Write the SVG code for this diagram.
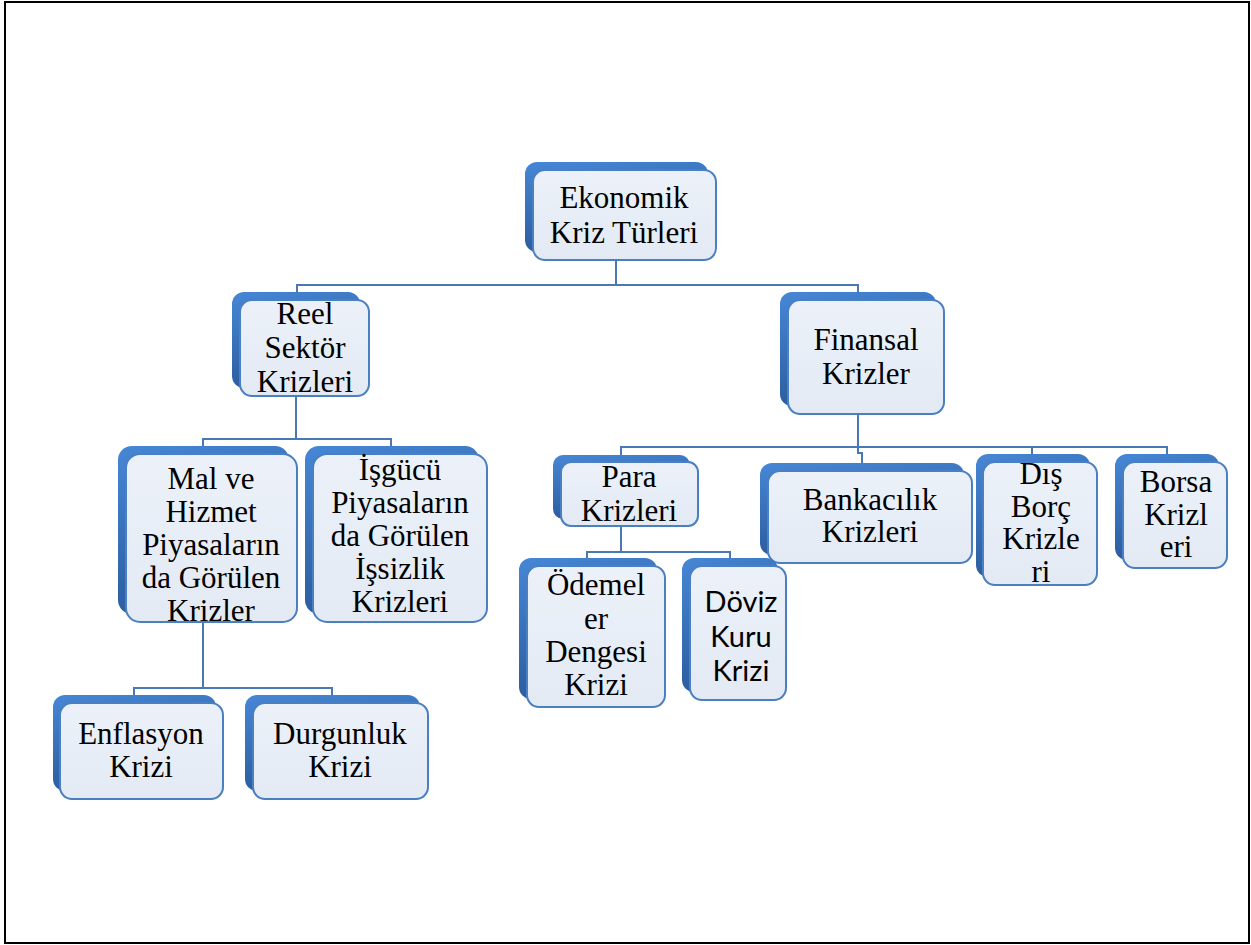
<svg xmlns="http://www.w3.org/2000/svg" width="1251" height="945" viewBox="0 0 1251 945">
<defs>
<linearGradient id="gBack" x1="0" y1="0" x2="0.3" y2="1">
<stop offset="0" stop-color="#4687d6"/>
<stop offset="1" stop-color="#2a5a9c"/>
</linearGradient>
<linearGradient id="gFront" x1="0" y1="0" x2="0" y2="1">
<stop offset="0" stop-color="#ecf1f9"/>
<stop offset="1" stop-color="#e3eaf4"/>
</linearGradient>
</defs>
<style>
.frame{fill:#fff;stroke:#000;stroke-width:2}
.back{fill:url(#gBack)}
.front{fill:url(#gFront);stroke:#4a7fc1;stroke-width:2}
.con{fill:none;stroke:#4a78b4;stroke-width:2}
.t{font-family:"Liberation Serif","Times New Roman",serif;font-size:31px;fill:#000;text-anchor:middle}
.s{font-family:Lato,"Open Sans",sans-serif;font-size:29px;fill:#000;text-anchor:middle}
</style>
<rect class="frame" x="5" y="2" width="1244" height="941"/>
<g id="connectors">
<path class="con" d="M616,260 V285 M297,292 V285 H858 V292"/>
<path class="con" d="M296,396 V439 M203,447 V439 H391 V447"/>
<path class="con" d="M203,622 V688 M134,695 V688 H332 V695"/>
<path class="con" d="M858,414 V447 M621,455 V447 H1167 V454 M1032,447 V454 M858,447 V453 H862 V463"/>
<path class="con" d="M621,526 V552 M587,558 V552 H730 V558"/>
</g>
<g id="n-ekonomik">
<rect class="back" x="525" y="162" width="183" height="90" rx="12"/>
<rect class="front" x="533" y="170" width="183" height="90" rx="12"/>
<text class="t" x="624" y="208">Ekonomik</text>
<text class="t" x="624" y="243">Kriz Türleri</text>
</g>
<g id="n-reel">
<rect class="back" x="232" y="292" width="128" height="96" rx="12"/>
<rect class="front" x="240" y="300" width="129" height="96" rx="12"/>
<text class="t" x="305" y="324">Reel</text>
<text class="t" x="305" y="358">Sektör</text>
<text class="t" x="305" y="392">Krizleri</text>
</g>
<g id="n-finansal">
<rect class="back" x="780" y="292" width="156" height="114" rx="12"/>
<rect class="front" x="788" y="300" width="156" height="114" rx="12"/>
<text class="t" x="866" y="350">Finansal</text>
<text class="t" x="866" y="384">Krizler</text>
</g>
<g id="n-mal">
<rect class="back" x="118" y="446" width="171" height="168" rx="14"/>
<rect class="front" x="126" y="454" width="171" height="168" rx="14"/>
<text class="t" x="211" y="489">Mal ve</text>
<text class="t" x="211" y="522">Hizmet</text>
<text class="t" x="211" y="555">Piyasaların</text>
<text class="t" x="211" y="588">da Görülen</text>
<text class="t" x="211" y="621">Krizler</text>
</g>
<g id="n-isgucu">
<rect class="back" x="305" y="446" width="174" height="168" rx="14"/>
<rect class="front" x="313" y="454" width="174" height="168" rx="14"/>
<text class="t" x="400" y="480">İşgücü</text>
<text class="t" x="400" y="513">Piyasaların</text>
<text class="t" x="400" y="546">da Görülen</text>
<text class="t" x="400" y="579">İşsizlik</text>
<text class="t" x="400" y="612">Krizleri</text>
</g>
<g id="n-para">
<rect class="back" x="553" y="455" width="137" height="64" rx="10"/>
<rect class="front" x="561" y="462" width="137" height="64" rx="10"/>
<text class="t" x="629" y="487">Para</text>
<text class="t" x="629" y="521">Krizleri</text>
</g>
<g id="n-bankacilik">
<rect class="back" x="760" y="463" width="204" height="92" rx="12"/>
<rect class="front" x="768" y="471" width="204" height="92" rx="12"/>
<text class="t" x="870" y="510">Bankacılık</text>
<text class="t" x="870" y="542">Krizleri</text>
</g>
<g id="n-dis">
<rect class="back" x="976" y="454" width="114" height="123" rx="12"/>
<rect class="front" x="983" y="462" width="114" height="123" rx="12"/>
<text class="t" x="1041" y="484">Dış</text>
<text class="t" x="1041" y="517">Borç</text>
<text class="t" x="1041" y="549">Krizle</text>
<text class="t" x="1041" y="582">ri</text>
</g>
<g id="n-borsa">
<rect class="back" x="1115" y="454" width="104" height="106" rx="12"/>
<rect class="front" x="1123" y="462" width="104" height="106" rx="12"/>
<text class="t" x="1176" y="492">Borsa</text>
<text class="t" x="1176" y="525">Krizl</text>
<text class="t" x="1176" y="557">eri</text>
</g>
<g id="n-odemeler">
<rect class="back" x="519" y="558" width="138" height="141" rx="12"/>
<rect class="front" x="527" y="566" width="138" height="141" rx="12"/>
<text class="t" x="596" y="595">Ödemel</text>
<text class="t" x="596" y="629">er</text>
<text class="t" x="596" y="662">Dengesi</text>
<text class="t" x="596" y="695">Krizi</text>
</g>
<g id="n-doviz">
<rect class="back" x="682" y="558" width="96" height="134" rx="12"/>
<rect class="front" x="690" y="566" width="96" height="134" rx="12"/>
<text class="s" x="741" y="612">Döviz</text>
<text class="s" x="741" y="647">Kuru</text>
<text class="s" x="741" y="681">Krizi</text>
</g>
<g id="n-enflasyon">
<rect class="back" x="53" y="695" width="163" height="96" rx="12"/>
<rect class="front" x="60" y="703" width="163" height="96" rx="12"/>
<text class="t" x="141" y="744">Enflasyon</text>
<text class="t" x="141" y="777">Krizi</text>
</g>
<g id="n-durgunluk">
<rect class="back" x="245" y="695" width="175" height="96" rx="12"/>
<rect class="front" x="253" y="703" width="175" height="96" rx="12"/>
<text class="t" x="340" y="744">Durgunluk</text>
<text class="t" x="340" y="777">Krizi</text>
</g>
</svg>
